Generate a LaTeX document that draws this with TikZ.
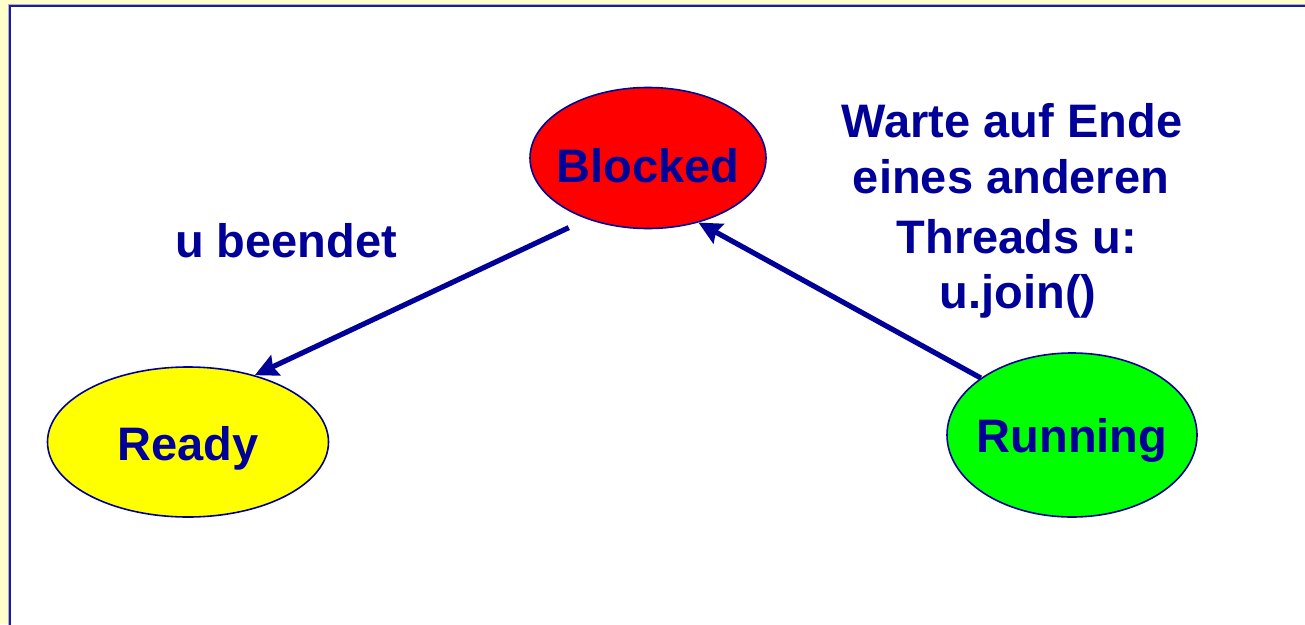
\documentclass[tikz,border=0pt]{standalone}
\usepackage{fontspec}
\setmainfont{Liberation Sans}
\usetikzlibrary{shapes.geometric,arrows.meta}
\definecolor{navy}{HTML}{000099}
\definecolor{paper}{HTML}{FFFFCC}
\definecolor{frame}{HTML}{1A1AAA}
\definecolor{stopred}{HTML}{FF0000}
\definecolor{readyyellow}{HTML}{FFFF00}
\definecolor{rungreen}{HTML}{00FF00}
\tikzset{
  state/.style={ellipse, draw=navy, line width=1.6pt, inner sep=0pt},
  statetext/.style={anchor=base, text=navy, font=\fontsize{47}{57}\selectfont\bfseries, inner sep=0pt},
  transition/.style={draw=navy, line width=5.2pt, -{Stealth[length=23pt,width=22pt,inset=3pt]}}
}
\begin{document}
\begin{tikzpicture}[x=1pt,y=-1pt]
  \useasboundingbox (0,0) rectangle (1305,624);
  \clip (0,0) rectangle (1305,624);
  % page background and framed white slide area
  \fill[paper] (0,0) rectangle (1305,624);
  \draw[gray!60, line width=1pt] (8,4) rectangle (1340,660);
  \filldraw[fill=white, draw=frame, line width=2.2pt] (9.8,5.8) rectangle (1340,660);

  % states
  \node[state, fill=stopred, minimum width=236, minimum height=141] (blocked) at (648,158) {};
  \node[state, fill=readyyellow, minimum width=281, minimum height=150] (ready) at (188,442) {};
  \node[state, fill=rungreen, minimum width=250, minimum height=164] (running) at (1072,435) {};

  \node[statetext] (blockedtxt) at (648,182) {Blocked};
  \node[statetext] (readytxt) at (188,460) {Ready};
  \node[statetext] (runningtxt) at (1072,452) {Running};

  % transitions
  \draw[transition, shorten <=20pt] (blocked.225) -- (ready.45);
  \draw[transition] (running.148) -- (blocked.308);

  % transition labels
  \node[statetext] (lblend) at (286,257) {u beendet};
  \node[statetext] (lbl1) at (1012,137) {Warte auf Ende};
  \node[statetext] (lbl2) at (1011,193) {eines anderen};
  \node[statetext] (lbl3) at (1017,253) {Threads u:};
  \node[statetext] (lbl4) at (1018,308) {u.join()};
\end{tikzpicture}
\end{document}
